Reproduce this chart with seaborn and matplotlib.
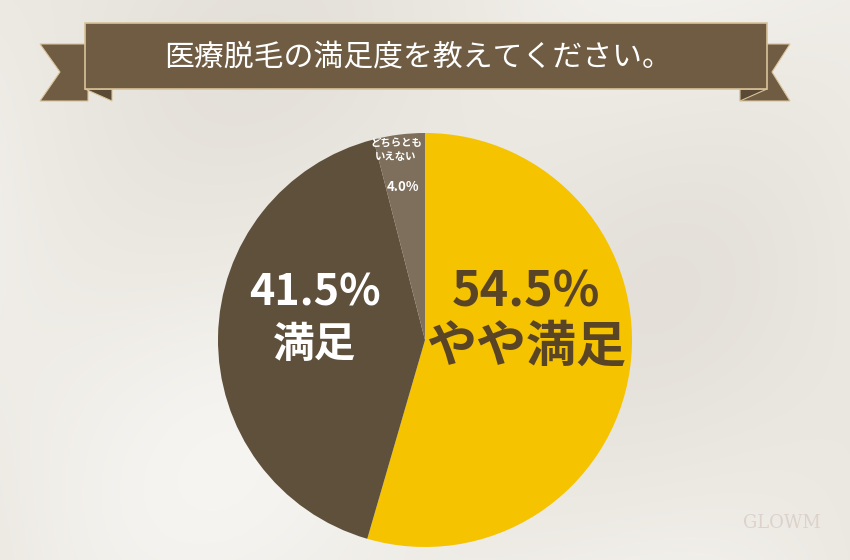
import numpy as np
import seaborn as sns
import matplotlib.pyplot as plt
from matplotlib.patches import Polygon, Rectangle

# データ
labels = ["やや満足", "満足", "どちらとも\nいえない"]
shares = [54.5, 41.5, 4.0]
colors = ["#F5C300", "#5F503C", "#7E6F5D"]
title = "医療脱毛の満足度を教えてください。"

sns.set_theme(style="white")
plt.rcParams["font.family"] = ["Noto Sans CJK JP", "DejaVu Sans"]

W, H = 850, 560
fig = plt.figure(figsize=(W / 100, H / 100), dpi=100)
ax = fig.add_axes([0, 0, 1, 1])
ax.set_xlim(0, W)
ax.set_ylim(0, H)
ax.axis("off")

# 背景（サテン風の淡いグラデーション）
yy, xx = np.mgrid[0:H, 0:W]
bg = (0.5 + 0.25 * np.sin((xx * 0.6 + yy) / 140.0)
      + 0.15 * np.sin((xx - yy * 0.8) / 95.0))
ax.imshow(bg, extent=[0, W, 0, H], origin="lower", cmap=sns.blend_palette(
    ["#E2DED7", "#EDEAE4", "#F8F7F4"], as_cmap=True), vmin=0, vmax=1,
    aspect="auto", zorder=0)


def py(y):
    return H - y


# タイトルのリボン
band = "#6F5C43"
dark = "#5A4A35"
gold = "#D8C39A"
ax.add_patch(Polygon([(40, py(44)), (88, py(44)), (88, py(101)), (40, py(101)),
                      (60, py(72))], closed=True, fc=band, ec=gold, lw=0.8, zorder=2))
ax.add_patch(Polygon([(790, py(44)), (740, py(44)), (740, py(101)), (790, py(101)),
                      (772, py(72))], closed=True, fc=band, ec=gold, lw=0.8, zorder=2))
ax.add_patch(Polygon([(85, py(89)), (112, py(101)), (112, py(89))], closed=True,
                     fc=dark, ec=gold, lw=0.8, zorder=3))
ax.add_patch(Polygon([(767, py(89)), (740, py(101)), (740, py(89))], closed=True,
                     fc=dark, ec=gold, lw=0.8, zorder=3))
ax.add_patch(Rectangle((85, py(89)), 682, 66, fc=band, ec=gold, lw=1.2, zorder=4))
ax.text(418, py(57), title, color="white", fontsize=21.5, ha="center",
        va="center", zorder=5)

# 円グラフ
ax.pie(shares, colors=colors, startangle=90, counterclock=False,
       center=(425, py(340)), radius=207, frame=True,
       wedgeprops=dict(linewidth=0, zorder=6))
ax.set_xlim(0, W)
ax.set_ylim(0, H)
ax.axis("off")

ax.text(526, py(292), f"{shares[0]}%", color="#5A4426", fontsize=35,
        fontweight="bold", ha="center", va="center", zorder=7)
ax.text(526, py(347), labels[0], color="#5A4426", fontsize=36,
        fontweight="bold", ha="center", va="center", zorder=7)
ax.text(315, py(292), f"{shares[1]}%", color="white", fontsize=31,
        fontweight="bold", ha="center", va="center", zorder=7)
ax.text(315, py(345), labels[1], color="white", fontsize=30,
        fontweight="bold", ha="center", va="center", zorder=7)
ax.text(396, py(150), labels[2], color="white", fontsize=7.5,
        fontweight="bold", ha="center", va="center", linespacing=1.5, zorder=7)
ax.text(403, py(187), f"{shares[2]}%", color="white", fontsize=9.5,
        fontweight="bold", ha="center", va="center", zorder=7)

# ウォーターマーク
ax.text(782, py(523), "GLOWM", color="#DDD2CB", fontsize=13,
        family="DejaVu Serif", ha="center", va="center", zorder=1)

fig.savefig("out.png", dpi=100)
